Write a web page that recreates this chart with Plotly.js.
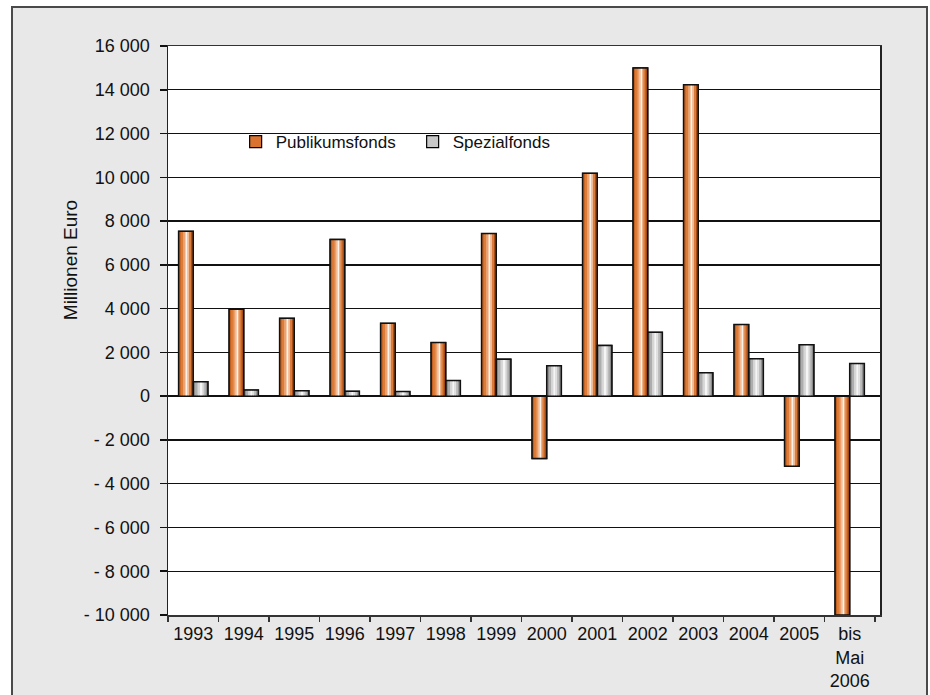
<!DOCTYPE html>
<html>
<head>
<meta charset="utf-8">
<script src="https://cdn.plot.ly/plotly-3.0.1.min.js"></script>
<style>
  html, body { margin: 0; padding: 0; background: #ffffff; width: 930px; height: 695px; overflow: hidden; }
  #frame { position: absolute; left: 11px; top: 6px; width: 913px; height: 700px;
           background: #e8e8e8; border: 2px solid #4a4a4a; border-bottom: none; }
  #chart { position: absolute; left: 0; top: 0; width: 913px; height: 687px; }
</style>
</head>
<body>
<div id="frame"><div id="chart"></div></div>
<script>
// ---- data ----
const categories = ["1993","1994","1995","1996","1997","1998","1999","2000","2001","2002","2003","2004","2005","bis<br>Mai<br>2006"];
const publikumsfonds = [7530, 3970, 3560, 7160, 3330, 2450, 7430, -2850, 10180, 15000, 14230, 3270, -3200, -10000];
const spezialfonds   = [660, 280, 250, 220, 210, 710, 1690, 1390, 2320, 2920, 1070, 1710, 2350, 1490];
const seriesNames = ["Publikumsfonds", "Spezialfonds"];
const yTickVals  = [16000, 14000, 12000, 10000, 8000, 6000, 4000, 2000, 0, -2000, -4000, -6000, -8000, -10000];
const yTickTexts = ["16 000","14 000","12 000","10 000","8 000","6 000","4 000","2 000","0","- 2 000","- 4 000","- 6 000","- 8 000","- 10 000"];

// ---- styling (not data) ----
const barW = 0.29;
const font = "Liberation Sans, Arial, sans-serif";
const orangeStripes = [[0,0.15,"#c4601f"],[0.15,0.3,"#dc7c39"],[0.3,0.42,"#eaa06d"],[0.42,0.5,"#f6cfb2"],
                       [0.5,0.62,"#fdf1e8"],[0.62,0.72,"#f0ba93"],[0.72,0.85,"#dd7b3b"],[0.85,1,"#a44d18"]];
const grayStripes = [[0,0.15,"#858585"],[0.15,0.3,"#adadad"],[0.3,0.45,"#d6d6d6"],[0.45,0.6,"#f5f5f5"],
                     [0.6,0.72,"#e0e0e0"],[0.72,0.85,"#bababa"],[0.85,1,"#8a8a8a"]];

const traces = [];
const series = [
  {name: seriesNames[0], y: publikumsfonds, off: -barW, base: "#d9732f", stripes: orangeStripes},
  {name: seriesNames[1], y: spezialfonds,   off: 0,     base: "#c8c8c8", stripes: grayStripes}
];
// legend/base layer
series.forEach(s => {
  traces.push({type: "bar", name: s.name, x: categories, y: s.y, offset: s.off, width: barW,
    marker: {color: s.base, line: {color: "#000", width: 1.2}}, hoverinfo: "x+y+name", showlegend: true});
});
// gradient stripes
series.forEach(s => {
  s.stripes.forEach(st => {
    traces.push({type: "bar", x: categories, y: s.y, offset: s.off + st[0]*barW, width: (st[1]-st[0])*barW,
      marker: {color: st[2], line: {width: 0}}, hoverinfo: "skip", showlegend: false});
  });
});
// outlines
series.forEach(s => {
  traces.push({type: "bar", x: categories, y: s.y, offset: s.off, width: barW,
    marker: {color: "rgba(0,0,0,0)", line: {color: "#111", width: 1.5}}, hoverinfo: "skip", showlegend: false});
});

const layout = {
  width: 913, height: 687,
  margin: {l: 155, r: 46, t: 38, b: 80},
  paper_bgcolor: "rgba(0,0,0,0)",
  plot_bgcolor: "#ffffff",
  barmode: "overlay",
  font: {family: font, size: 18, color: "#111"},
  showlegend: true,
  legend: {orientation: "h", x: 0.095, y: 0.831, xanchor: "left", yanchor: "middle",
           bgcolor: "rgba(0,0,0,0)", font: {family: font, size: 17, color: "#111"},
           traceorder: "normal", itemwidth: 30, entrywidth: 132},
  xaxis: {type: "category", range: [-0.5, 13.6], tickson: "boundaries", ticks: "outside",
          ticklen: 5, tickwidth: 1.5, tickcolor: "#333", showgrid: false,
          showline: true, linecolor: "#333", linewidth: 1.5, mirror: true, ticklabelstandoff: 2,
          tickfont: {family: font, size: 18, color: "#111"}, fixedrange: true},
  yaxis: {range: [-10000, 16000], tickvals: yTickVals, ticktext: yTickTexts, ticks: "outside",
          ticklen: 7, tickwidth: 1.5, tickcolor: "#111", showgrid: true, gridcolor: "#111", gridwidth: 1.4,
          zeroline: true, zerolinecolor: "#111", zerolinewidth: 1.4, ticklabelstandoff: 6,
          showline: true, linecolor: "#222", linewidth: 1.5, mirror: true,
          tickfont: {family: font, size: 18, color: "#111"}, fixedrange: true},
  annotations: [{text: "Millionen Euro", xref: "paper", yref: "paper", x: -0.1376, y: 0.6236,
                 textangle: -90, showarrow: false, xanchor: "center", yanchor: "middle",
                 font: {family: font, size: 19, color: "#111"}}]
};

Plotly.newPlot("chart", traces, layout, {displayModeBar: false, staticPlot: true});
</script>
</body>
</html>
